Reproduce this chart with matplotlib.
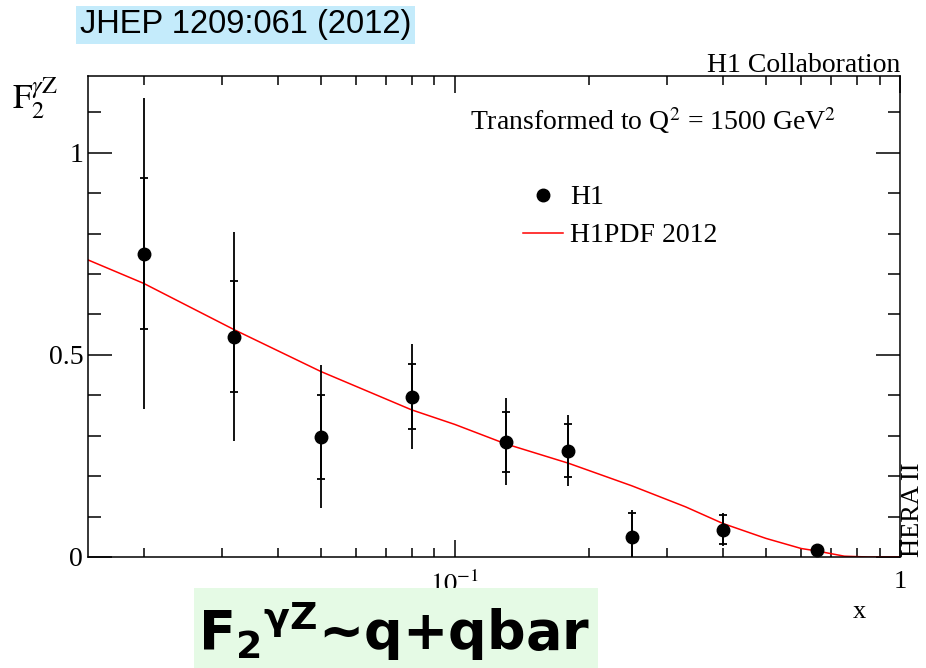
import matplotlib
matplotlib.use('Agg')
import matplotlib.pyplot as plt
from matplotlib.patches import Rectangle
from matplotlib.ticker import MultipleLocator, LogLocator, NullFormatter

plt.rcParams['font.family'] = 'Liberation Serif'
plt.rcParams['mathtext.fontset'] = 'stix'

# H1 data points, F2^gammaZ at Q2 = 1500 GeV2
x_data = [0.02, 0.032, 0.05, 0.08, 0.13, 0.18, 0.25, 0.40, 0.65]
f2_data = [0.750, 0.545, 0.298, 0.397, 0.285, 0.263, 0.050, 0.068, 0.017]
err_stat = [0.187, 0.137, 0.104, 0.080, 0.074, 0.065, 0.058, 0.036, 0.005]
err_tot = [0.385, 0.259, 0.178, 0.130, 0.108, 0.088, 0.066, 0.041, 0.007]

# H1PDF 2012 curve
x_pdf = [0.015, 0.02, 0.032, 0.05, 0.08, 0.1, 0.13, 0.18, 0.25, 0.33,
         0.4, 0.5, 0.6, 0.65, 0.75, 0.85, 1.0]
f2_pdf = [0.735, 0.677, 0.562, 0.459, 0.364, 0.328, 0.280, 0.232, 0.176, 0.124,
          0.083, 0.046, 0.021, 0.015, 0.002, 0.0, 0.0]

W, H = 926, 668
fig = plt.figure(figsize=(W / 100, H / 100), dpi=100)
ax = fig.add_axes([88 / W, 1 - 557 / H, (900 - 88) / W, (557 - 76) / H])

ax.errorbar(x_data, f2_data, yerr=err_tot, fmt='none', ecolor='black',
            elinewidth=1.3, capsize=0, zorder=3)
ax.errorbar(x_data, f2_data, yerr=err_stat, fmt='none', ecolor='black',
            elinewidth=1.3, capsize=3.2, capthick=1.3, zorder=3)
ax.plot(x_data, f2_data, 'o', color='black', markersize=9, label='H1', zorder=4)
ax.plot(x_pdf, f2_pdf, color='red', lw=1.1, label='H1PDF 2012', zorder=2)

ax.set_xscale('log')
ax.set_xlim(0.015, 1.0)
ax.set_ylim(0, 1.19)

ax.set_xticks([0.1, 1.0])
ax.set_xticklabels([r'$10^{-1}$', '1'])
ax.xaxis.set_minor_locator(LogLocator(base=10, subs=range(2, 10)))
ax.xaxis.set_minor_formatter(NullFormatter())
ax.yaxis.set_major_locator(MultipleLocator(0.5))
ax.yaxis.set_minor_locator(MultipleLocator(0.1))
ax.yaxis.set_major_formatter(plt.FuncFormatter(lambda v, p: '%g' % v))

ax.tick_params(which='both', direction='in', top=True, right=True, width=1.1)
ax.tick_params(axis='y', which='major', length=17, labelsize=20, pad=3.5)
ax.tick_params(axis='y', which='minor', length=9)
ax.tick_params(axis='x', which='major', length=12, labelsize=19, pad=10)
ax.tick_params(axis='x', which='minor', length=6.5)
for s in ax.spines.values():
    s.set_linewidth(1.1)

ax.legend(loc='upper left', bbox_to_anchor=(523 / W, 1 - 185 / H),
          bbox_transform=fig.transFigure, frameon=False, fontsize=20,
          borderpad=0, borderaxespad=0, handlelength=1.45, handletextpad=0.25,
          labelspacing=0.45, numpoints=1)

fig.text(12 / W, 1 - 98 / H, r'$\mathrm{F}_{2}^{\gamma\mathrm{Z}}$', fontsize=25,
         ha='left', va='center')
fig.text(900 / W, 1 - 72 / H, 'H1 Collaboration', fontsize=20,
         ha='right', va='baseline')
fig.text(470 / W, 1 - 130 / H, r'Transformed to Q$^2$ = 1500 GeV$^2$',
         fontsize=20, ha='left', va='baseline')
fig.text(859 / W, 1 - 618 / H, 'x', fontsize=19, ha='center', va='baseline')
fig.text(913 / W, 1 - 557 / H, 'HERA II', fontsize=19, rotation=90,
         ha='center', va='bottom')

fig.text(80 / W, 1 - 25 / H, 'JHEP 1209:061 (2012)', family='Liberation Sans',
         fontsize=23.5, ha='left', va='center',
         bbox=dict(facecolor='#c4ebfb', edgecolor='none', pad=2.5))

fig.patches.append(Rectangle((194 / W, 0), (598 - 194) / W, (668 - 588) / H,
                             transform=fig.transFigure, facecolor='#e5fae5',
                             edgecolor='none', zorder=1))
fig.text(198 / W, 1 - 650 / H, r'F$_{\mathbf{2}}{}^{\mathbf{\gamma Z}}$~q+qbar',
         family='DejaVu Sans', weight='bold', math_fontfamily='dejavusans',
         fontsize=39, ha='left', va='baseline', zorder=3)

fig.savefig('out.png', dpi=100)
